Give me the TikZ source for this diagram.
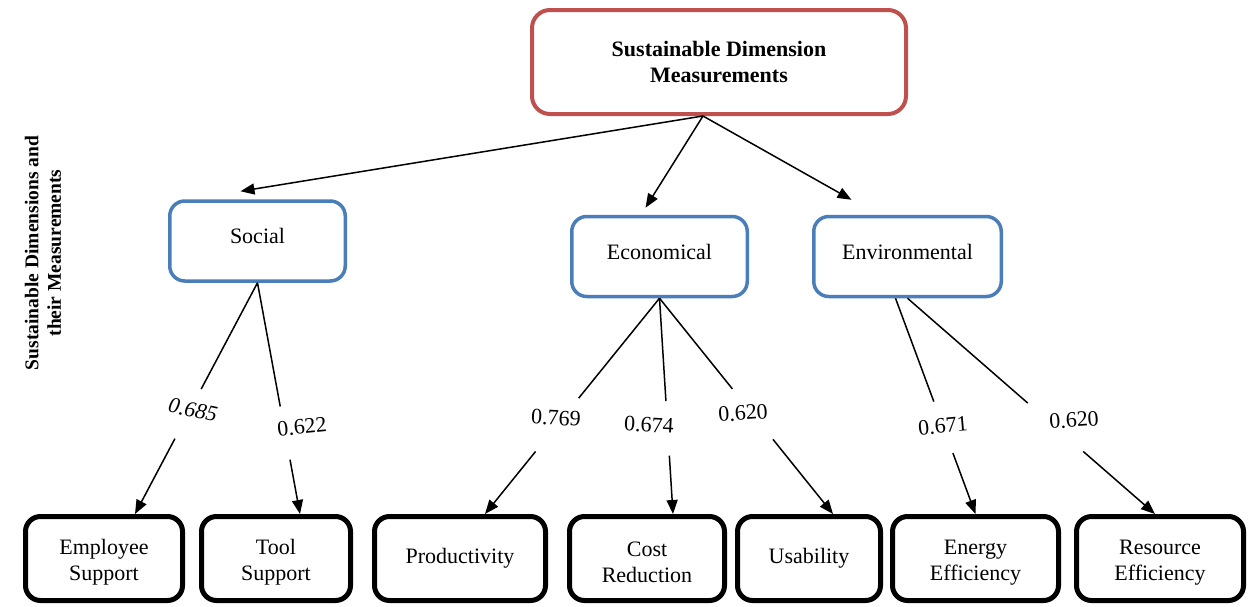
\documentclass[tikz,border=0pt]{standalone}
\usepackage{fontspec}
\setmainfont{Liberation Serif}
\usetikzlibrary{arrows.meta,calc}
\definecolor{redb}{RGB}{192,80,77}
\definecolor{blueb}{RGB}{74,126,187}
\newcommand\gapconn[4]{%
  \draw[conn] (#1) -- ($(#1)!#3!(#2)$);
  \draw[arr] ($(#1)!#4!(#2)$) -- (#2);}
\newcommand\tstrut{\rule{0pt}{23pt}}
\begin{document}
\begin{tikzpicture}[x=1pt,y=-1pt,
  basefont/.style={font=\fontsize{22}{26}\selectfont},
  topbox/.style={draw=redb, line width=4pt, rounded corners=18pt, minimum width=374pt, minimum height=104pt, font=\fontsize{22}{26}\selectfont\bfseries, align=center, inner sep=0pt},
  midbox/.style={draw=blueb, line width=3.5pt, rounded corners=15pt, minimum height=80pt, basefont, inner sep=0pt, text height=16pt, text depth=11pt},
  leafbox/.style={draw=black, line width=5pt, rounded corners=15pt, minimum height=84pt, basefont, align=center, inner sep=0pt},
  conn/.style={line width=1.5pt},
  arr/.style={line width=1.5pt, -{Triangle[length=14pt,width=11pt]}},
  wt/.style={basefont, inner sep=0pt}
]
\useasboundingbox (0,0) rectangle (1248,606);

% top node
\node[topbox] (top) at (719,62) {Sustainable Dimension\\Measurements};

% dimension nodes
\node[midbox, minimum width=175.5pt] (soc) at (257.5,241) {Social};
\node[midbox, minimum width=175.5pt] (eco) at (659.5,256.5) {Economical};
\node[midbox, minimum width=187.5pt] (env) at (907.5,256.5) {Environmental};

% measurement nodes
\node[leafbox, minimum width=157pt] (emp) at (104,558.5) {\tstrut Employee\\Support};
\node[leafbox, minimum width=149pt] (tool) at (276,558.5) {\tstrut Tool\\Support};
\node[leafbox, minimum width=171pt] (prod) at (460,558.5) {Productivity};
\node[leafbox, minimum width=155pt] (cost) at (647,558.5) {\tstrut Cost\\Reduction};
\node[leafbox, minimum width=143pt] (usab) at (809,558.5) {Usability};
\node[leafbox, minimum width=166pt] (ener) at (975.5,558.5) {\tstrut Energy\\Efficiency};
\node[leafbox, minimum width=167pt] (reso) at (1160,558.5) {\tstrut Resource\\Efficiency};

% side title
\node[rotate=90, font=\fontsize{19.5}{22.5}\selectfont\bfseries, align=center, inner sep=0pt] (side) at (43,253) {Sustainable Dimensions and\\their Measurements};

% top arrows
\coordinate (ts) at ([xshift=-16pt]top.south);
\draw[arr] (ts) -- ([xshift=-17pt,yshift=8pt]soc.north);
\draw[arr] (ts) -- ([xshift=-14pt,yshift=7pt]eco.north);
\draw[arr] (ts) -- ([xshift=-56pt,yshift=15pt]env.north);

% target points
\coordinate (empT) at ([xshift=31pt]emp.north);
\coordinate (toolT) at ([xshift=24pt]tool.north);
\coordinate (prodT) at ([xshift=25pt]prod.north);
\coordinate (costT) at ([xshift=26pt]cost.north);
\coordinate (usabT) at ([xshift=24pt]usab.north);
\coordinate (enerT) at (ener.north);
\coordinate (resoT) at ([xshift=-5pt]reso.north);
\coordinate (envL) at ([xshift=-12pt]env.south);

% lower connectors with gaps
\gapconn{soc.south}{empT}{0.46}{0.674}
\gapconn{soc.south}{toolT}{0.535}{0.765}
\gapconn{eco.south}{prodT}{0.463}{0.71}
\gapconn{eco.south}{costT}{0.477}{0.729}
\gapconn{eco.south}{usabT}{0.42}{0.654}
\gapconn{envL}{enerT}{0.479}{0.718}
\gapconn{env.south}{resoT}{0.486}{0.71}

% loading labels
\node[wt, rotate=-12, font=\fontsize{22}{26}\selectfont\itshape] (l1) at (193,410) {0.685};
\node[wt, rotate=6] (l2) at (302,427) {0.622};
\node[wt, rotate=-3] (l3) at (556,418) {0.769};
\node[wt, rotate=-3] (l4) at (649,425) {0.674};
\node[wt, rotate=4] (l5) at (743,413) {0.620};
\node[wt, rotate=5] (l6) at (943,426) {0.671};
\node[wt, rotate=4] (l7) at (1074,420) {0.620};
\end{tikzpicture}
\end{document}
